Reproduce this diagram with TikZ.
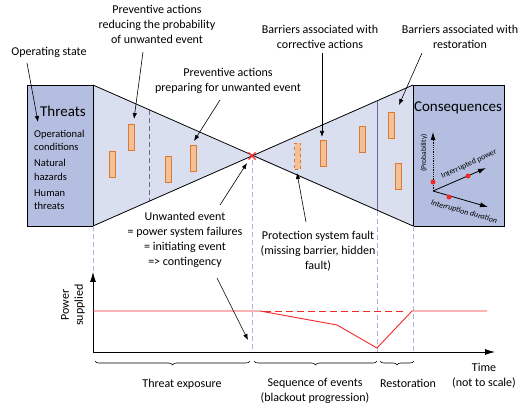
\documentclass[tikz,border=0pt]{standalone}
\usepackage{fontspec}
\setmainfont{Carlito}
\usetikzlibrary{arrows.meta,decorations.pathreplacing}
\definecolor{boxfill}{RGB}{180,190,224}
\definecolor{funfill}{RGB}{218,223,240}
\definecolor{barfill}{RGB}{244,192,150}
\definecolor{bardraw}{RGB}{222,120,50}
\definecolor{purp}{RGB}{110,100,160}
\definecolor{lav}{RGB}{180,175,220}
\definecolor{redl}{RGB}{245,40,40}
\begin{document}
\begin{tikzpicture}[x=1pt,y=-1pt,
  font=\fontsize{12}{15}\selectfont,
  txt/.style={align=center, inner sep=0pt},
  small/.style={font=\fontsize{10.5}{13.5}\selectfont, align=left, inner sep=0pt, anchor=west},
  title/.style={font=\fontsize{15}{18}\selectfont, inner sep=0pt},
  tiny/.style={font=\fontsize{8}{9}\selectfont, inner sep=0pt},
  arr/.style={-{Latex[length=6pt,width=4.5pt]}, line width=0.6pt},
  axarr/.style={-{Latex[length=10pt,width=6pt]}, line width=0.9pt},
  carr/.style={-{Latex[length=8pt,width=5pt]}, line width=0.8pt},
  bigbox/.style={draw, fill=boxfill, line width=0.9pt, inner sep=0pt},
  barrier/.style={draw=bardraw, fill=barfill, line width=0.8pt},
  guide/.style={draw=lav, dash pattern=on 5pt off 3pt, line width=0.6pt},
  powerline/.style={draw=redl, line width=0.9pt},
  dot/.style={circle, fill=redl, inner sep=0pt, minimum size=5pt},
  brc/.style={decorate, decoration={brace, amplitude=4pt, mirror}, line width=0.6pt}
]
\useasboundingbox (0,0) rectangle (531,409);

% funnels
\fill[funfill] (93,85) -- (252,156) -- (93,226) -- cycle;
\fill[funfill] (252,156) -- (413,85) -- (413,226) -- cycle;
\draw[purp, dash pattern=on 5pt off 3pt, line width=0.7pt] (149,110) -- (149,201);
\draw[purp, line width=0.8pt] (377,101) -- (377,211);
\draw[line width=0.8pt] (93,85) -- (413,226);
\draw[line width=0.8pt] (93,226) -- (413,85);

% boxes
\node[bigbox, minimum width=66pt, minimum height=141pt] (threatbox) at (60,155.5) {};
\node[bigbox, minimum width=91pt, minimum height=141pt] (consbox) at (458.5,155.5) {};
\node[title] (threats) at (63,111) {Threats};
\node[title] (cons) at (458,108) {Consequences};
\node[small] (oc) at (34,140.5) {Operational\\conditions};
\node[small] (nh) at (34,170) {Natural\\hazards};
\node[small] (ht) at (34,199.5) {Human\\threats};

% barriers
\node[barrier, minimum width=6pt, minimum height=26pt, inner sep=0pt] (b1) at (131,137) {};
\node[barrier, minimum width=6pt, minimum height=26pt, inner sep=0pt] (b2) at (112,164.5) {};
\node[barrier, minimum width=6pt, minimum height=26pt, inner sep=0pt] (b3) at (168.5,169) {};
\node[barrier, minimum width=6pt, minimum height=26pt, inner sep=0pt] (b4) at (193,158.5) {};
\node[barrier, dashed, minimum width=6pt, minimum height=26pt, inner sep=0pt] (b5) at (297.5,156) {};
\node[barrier, minimum width=6pt, minimum height=26pt, inner sep=0pt] (b6) at (323.5,153) {};
\node[barrier, minimum width=6pt, minimum height=26pt, inner sep=0pt] (b7) at (362,139) {};
\node[barrier, minimum width=6pt, minimum height=26pt, inner sep=0pt] (b8) at (391,125.5) {};
\node[barrier, minimum width=6pt, minimum height=26pt, inner sep=0pt] (b9) at (398.5,176) {};

% unwanted event cross
\coordinate (ue) at (252,156);
\draw[redl, line width=1.1pt] (248.5,152.5) -- (255.5,159.5) (248.5,159.5) -- (255.5,152.5);

% consequence axes
\coordinate (co) at (433,191);
\coordinate (cp) at (433,132);
\coordinate (cip) at (486,168);
\coordinate (cid) at (488,207);
\draw[carr, densely dotted] (co) -- (cp);
\draw[carr] (co) -- (cip);
\draw[carr] (co) -- (cid);
\node[dot] (d1) at (433,182) {};
\node[dot] (d2) at (468,176) {};
\node[dot] (d3) at (449,197) {};
\node[tiny, rotate=90, font=\fontsize{7.5}{9}\selectfont] (prob) at (424,153) {(Probability)};
\node[tiny, rotate=25] (ip) at (469,164) {Interrupted power};
\node[tiny, rotate=-16, font=\fontsize{8}{9}\selectfont\itshape] (idur) at (464,212) {Interruption duration};

% guides
\draw[guide] (93,226) -- (93,352);
\draw[guide] (252,160) -- (252,352);
\draw[guide] (377,211) -- (377,352);
\draw[guide] (413,226) -- (413,352);

% axes
\coordinate (org) at (93,352);
\coordinate (ytip) at (93,272);
\coordinate (xtip) at (495,352);
\draw[axarr] (org) -- (ytip);
\draw[axarr] (org) -- (xtip);
\node[txt, rotate=90, font=\fontsize{12}{14}\selectfont] (ps) at (73,305) {Power\\supplied};

% power curve
\draw[powerline] (93,311) -- (260,311) -- (337,325) -- (377,348) -- (412,311) -- (487,311);
\foreach \xx in {264,275,...,404} {
  \draw[powerline] (\xx,311) -- (\xx+7,311);
}

% braces
\draw[brc] (95,361) -- (250,361);
\draw[brc] (254,361) -- (377,361);
\draw[brc] (380,361) -- (414,361);
\node[txt] (te) at (182,384) {Threat exposure};
\node[txt] (se) at (315,390.5) {Sequence of events\\(blackout progression)};
\node[txt] (rs) at (408,383) {Restoration};
\node[txt] (tm) at (484,375.5) {Time\\(not to scale)};

% annotations
\node[txt] (opst) at (49,52) {Operating state};
\node[txt] (pr1) at (157,24) {Preventive actions\\reducing the probability\\of unwanted event};
\node[txt] (pr2) at (228,80.5) {Preventive actions\\preparing for unwanted event};
\node[txt] (bc) at (320,36.5) {Barriers associated with\\corrective actions};
\node[txt] (br) at (460,36.5) {Barriers associated with\\restoration};
\node[txt] (uw) at (185,239.5) {Unwanted event\\= power system failures\\= initiating event\\=> contingency};
\node[txt] (pf) at (318,251) {Protection system fault\\(missing barrier, hidden\\fault)};

\coordinate (s1) at (27,63);   \coordinate (t1) at (38,122);
\coordinate (s2) at (143,52);  \coordinate (t2) at (134,119);
\coordinate (s3) at (220,100); \coordinate (t3) at (194,141);
\coordinate (s4) at (322,53);  \coordinate (t4) at (322,137);
\coordinate (s5) at (422,53);  \coordinate (t5) at (399,105);
\coordinate (s6) at (220,205); \coordinate (t6) at (247,163);
\coordinate (s7) at (217,278); \coordinate (t7) at (248,340);
\coordinate (s8) at (306,222); \coordinate (t8) at (297,173);
\draw[arr] (s1) -- (t1);
\draw[arr] (s2) -- (t2);
\draw[arr] (s3) -- (t3);
\draw[arr] (s4) -- (t4);
\draw[arr] (s5) -- (t5);
\draw[arr] (s6) -- (t6);
\draw[arr] (s7) -- (t7);
\draw[arr] (s8) -- (t8);
\end{tikzpicture}
\end{document}
